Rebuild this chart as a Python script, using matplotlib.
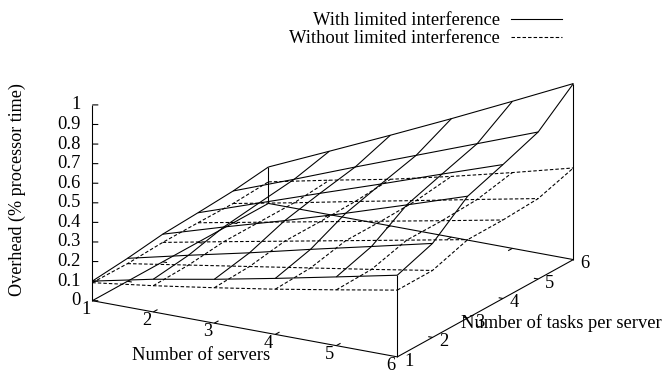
import numpy as np
import matplotlib
matplotlib.use("Agg")
import matplotlib.pyplot as plt
from matplotlib.lines import Line2D
from mpl_toolkits.mplot3d import proj3d

servers = [1, 2, 3, 4, 5, 6]
tasks = [1, 2, 3, 4, 5, 6]
overhead_ticks = [0, 0.1, 0.2, 0.3, 0.4, 0.5, 0.6, 0.7, 0.8, 0.9, 1]
overhead_labels = ["0", "0.1", "0.2", "0.3", "0.4", "0.5", "0.6", "0.7", "0.8", "0.9", "1"]

# rows: tasks per server; columns: servers
with_limited = [
    [0.100, 0.167, 0.224, 0.286, 0.351, 0.417],
    [0.117, 0.190, 0.260, 0.335, 0.407, 0.480],
    [0.141, 0.235, 0.325, 0.420, 0.520, 0.622],
    [0.151, 0.258, 0.365, 0.470, 0.578, 0.684],
    [0.163, 0.280, 0.400, 0.517, 0.634, 0.751],
    [0.186, 0.324, 0.463, 0.605, 0.751, 0.899],
]
without_limited = [
    [0.092, 0.134, 0.181, 0.231, 0.285, 0.341],
    [0.090, 0.140, 0.190, 0.240, 0.290, 0.342],
    [0.099, 0.160, 0.220, 0.280, 0.340, 0.400],
    [0.100, 0.160, 0.220, 0.280, 0.340, 0.401],
    [0.099, 0.160, 0.224, 0.286, 0.349, 0.411],
    [0.110, 0.176, 0.238, 0.310, 0.387, 0.468],
]

plt.rcParams["font.family"] = ["Liberation Serif", "DejaVu Serif"]
FS = 13.3
W, H = 665, 376
LW = 0.78
fig = plt.figure(figsize=(W / 100, H / 100), dpi=100)
ax = fig.add_axes([0, 0, 1, 1], projection="3d", proj_type="ortho")
ax.set_axis_off()
ax.view_init(elev=18.6, azim=-60)
ax.set_xlim(1, 6, view_margin=0)
ax.set_ylim(1, 6, view_margin=0)
ax.set_zlim(0, 1, view_margin=0)
BOX = (1, 1, 0.5866)
ax.set_box_aspect(BOX, zoom=1)


def to_px(x, y, z):
    a, b, _ = proj3d.proj_transform(x, y, z, ax.get_proj())
    return ax.transData.transform((a, b))


# fit the projected box to the reference's pixel frame
fig.canvas.draw()
p0, p1 = to_px(1, 1, 0), to_px(6, 1, 0)
ax.set_box_aspect(BOX, zoom=305.0 / (p1[0] - p0[0]))
fig.canvas.draw()
p0 = to_px(1, 1, 0)
ax.set_position([(92.3 - p0[0]) / W, (H - 300.7 - p0[1]) / H, 1, 1])
fig.canvas.draw()

kw = dict(color="black", lw=LW, clip_on=False, solid_capstyle="butt")


def seg(xs, ys, zs):
    ax.plot(xs, ys, zs, **kw)


def label_at(x, y, z, s, dx, dy, ha="center"):
    """Text at a projected data point, shifted dx right and dy down in pixels."""
    px, py = to_px(x, y, z)
    fig.text((px + dx) / W, (py - dy) / H, s, fontsize=FS, color="black", ha=ha, va="center")


# box and axes
seg([1, 6], [1, 1], [0, 0])
seg([6, 6], [1, 6], [0, 0])
seg([6, 1], [6, 6], [0, 0])
seg([1, 1], [6, 1], [0, 0])
seg([1, 1], [1, 1], [0, 1])
seg([6, 6], [1, 1], [0, with_limited[0][5]])
seg([6, 6], [6, 6], [0, with_limited[5][5]])
seg([1, 1], [6, 6], [0, with_limited[5][0]])

# ticks
for s in servers[1:-1]:
    seg([s, s], [1, 1.12], [0, 0])
    seg([s, s], [6, 5.88], [0, 0])
for t in tasks[1:-1]:
    seg([6, 5.93], [t, t], [0, 0])
    seg([1, 1.07], [t, t], [0, 0])
for z in overhead_ticks:
    seg([1, 1.074], [1, 1.042], [z, z])

# tick labels
for s in servers:
    label_at(s, 1, 0, str(s), -6.6, 8.8)
for t in tasks:
    label_at(6, t, 0, str(t), 11.7, 4.3)
for z, lab in zip(overhead_ticks, overhead_labels):
    label_at(1, 1, z, lab, -11.6, 0, ha="right")

# surfaces
S, T = np.meshgrid(servers, tasks)
Z1 = np.array(with_limited)
Z2 = np.array(without_limited)
dkw = dict(color="black", lw=LW, clip_on=False, dashes=(3.2, 1.9), dash_capstyle="butt")
for i in range(6):
    ax.plot(S[i], T[i], Z1[i], **kw)
    ax.plot(S[:, i], T[:, i], Z1[:, i], **kw)
    ax.plot(S[i], T[i], Z2[i], **dkw)
    ax.plot(S[:, i], T[:, i], Z2[:, i], **dkw)

# axis titles
fig.text(200.7 / W, 1 - 355 / H, "Number of servers", fontsize=FS, ha="center", va="center")
fig.text(561.5 / W, 1 - 323.3 / H, "Number of tasks per server", fontsize=FS, ha="center", va="center")
fig.text(17.5 / W, 1 - 190 / H, "Overhead (% processor time)", fontsize=13.05, rotation=90, ha="center", va="center")

# legend
handles = [
    Line2D([], [], color="black", lw=LW),
    Line2D([], [], color="black", lw=LW, dashes=(3.2, 1.9)),
]
fig.legend(
    handles,
    ["With limited interference", "Without limited interference"],
    markerfirst=False, frameon=False, fontsize=FS,
    loc="upper right", bbox_to_anchor=(562 / W, 1 - 12 / H), bbox_transform=fig.transFigure,
    borderpad=0, borderaxespad=0, handlelength=51 / (FS * 100 / 72), handletextpad=0.62, labelspacing=0.08,
)

fig.savefig("out.png", dpi=100)
